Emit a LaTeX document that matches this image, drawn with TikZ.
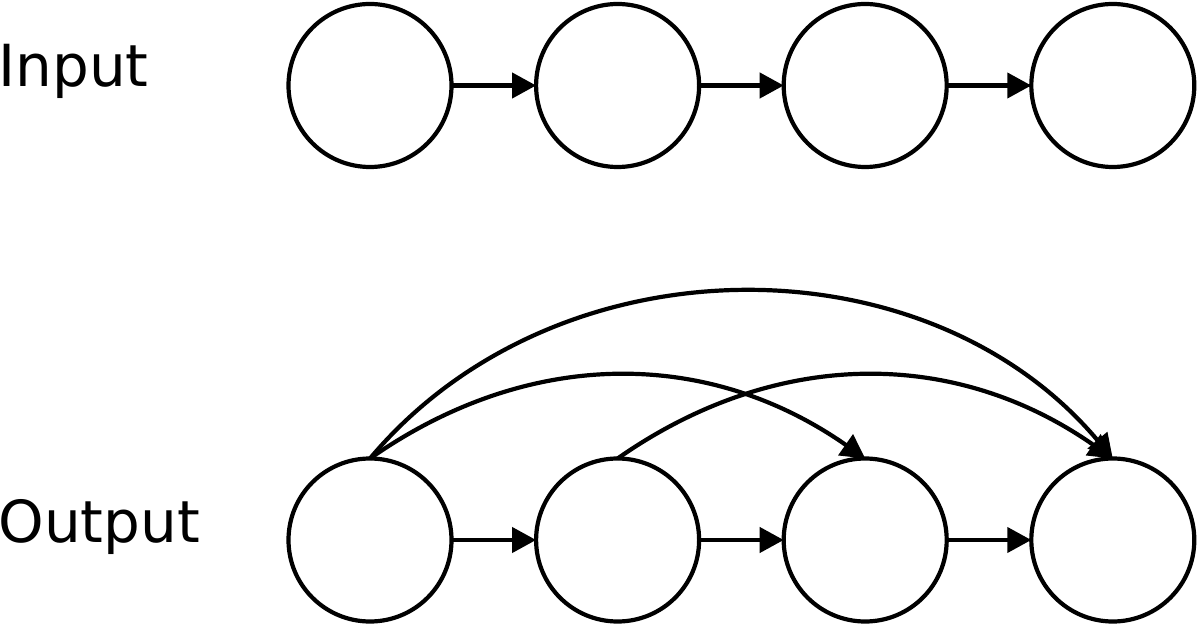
\documentclass[tikz,border=0pt]{standalone}
\usepackage{fontspec}
\setmainfont{DejaVu Sans}
\usetikzlibrary{arrows.meta, positioning}
\newcommand{\tokensize}{81.5pt}
\tikzstyle{token} = [% one element of a sequence
  circle,
  minimum size=\tokensize,
  inner sep=0pt,
  outer sep=0pt,
  line width=2.1pt,
  draw=black
]
\tikzstyle{rowlabel} = [% name of a row
  anchor=base west,
  inner sep=0pt,
  font=\fontsize{29pt}{34pt}\selectfont
]
\tikzstyle{arrow} = [% arrow format
  -{Triangle[length=12pt, width=12.5pt]},
  line width=2.1pt
]

\begin{document}
\begin{tikzpicture}[node distance=42.3pt]
\useasboundingbox (-185pt, 42.75pt) rectangle (414pt, -269.75pt);

%%% Nodes
\node[token] (in1) at (0,0) {};
\node[token] (in2) [right=of in1] {};
\node[token] (in3) [right=of in2] {};
\node[token] (in4) [right=of in3] {};

\node[token] (out1) [below=145.75pt of in1] {};
\node[token] (out2) [right=of out1] {};
\node[token] (out3) [right=of out2] {};
\node[token] (out4) [right=of out3] {};


%%% Labels
\node[rowlabel] (inputlabel) at ([xshift=-186pt, yshift=-0.75pt]in1.center) {Input};
\node[rowlabel] (outputlabel) at ([xshift=-186pt, yshift=-1pt]out1.center) {Output};


%%% Arrows
\draw[arrow] (in1) -- (in2);
\draw[arrow] (in2) -- (in3);
\draw[arrow] (in3) -- (in4);

\draw[arrow] (out1) -- (out2);
\draw[arrow] (out2) -- (out3);
\draw[arrow] (out3) -- (out4);

\draw[arrow] (out1.north) to[bend left=35] (out3.north);
\draw[arrow] (out1.north) to[bend left=50] (out4.north);
\draw[arrow] (out2.north) to[bend left=35] (out4.north);

\end{tikzpicture}
\end{document}
